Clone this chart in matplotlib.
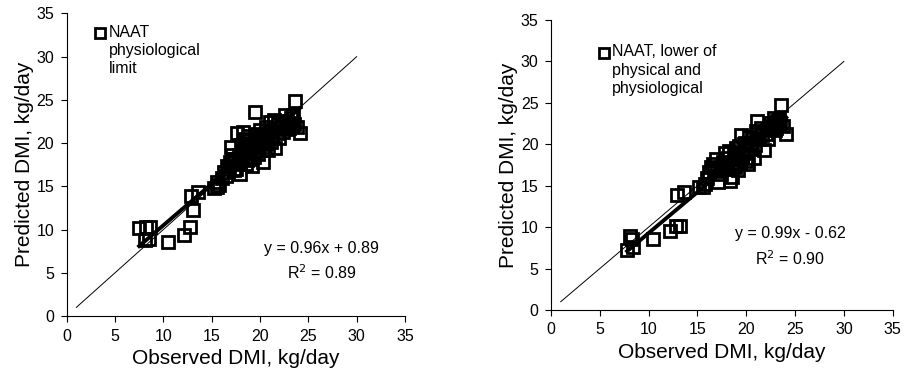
import numpy as np
import matplotlib
matplotlib.use('agg')
import matplotlib.pyplot as plt

plt.rcParams['font.family'] = ['Liberation Sans', 'DejaVu Sans']

# ---------------- data ----------------
obs_a = [7.5, 8.2, 8.6, 8.1, 8.5, 10.5, 12.1, 12.8, 13.1, 12.9, 13.6, 15.2, 15.6, 15.5, 15.8,
         16.3, 16.6, 16.9, 17.0, 17.2, 17.5, 17.9, 17.8, 18.0, 18.2, 18.4, 18.5, 18.6, 18.8,
         19.0, 19.2, 19.3, 19.5, 19.6, 19.8, 20.0, 20.1, 20.3, 20.4, 20.6, 20.8, 21.0, 21.2,
         21.4, 21.6, 21.8, 22.0, 22.2, 22.4, 22.6, 22.8, 23.0, 23.2, 23.4, 23.6, 23.5, 23.8,
         24.1, 17.3, 18.9, 19.9, 16.5, 17.6,
         16.8, 17.4, 17.7, 18.1, 18.3, 18.7, 19.1, 19.4, 19.7, 20.2, 20.5, 20.9, 21.1, 21.5,
         21.9, 22.3, 22.7, 23.1, 23.3, 16.1, 17.1, 18.6, 19.5, 20.7]
pred_a = [10.2, 10.3, 10.3, 8.8, 8.9, 8.6, 9.4, 10.3, 12.3, 13.9, 14.3, 14.8, 14.9, 15.5, 15.2,
          16.7, 17.4, 17.8, 19.5, 18.2, 17.0, 16.4, 18.6, 19.8, 21.3, 20.5, 19.0, 17.6, 20.8,
          18.2, 17.3, 19.5, 23.6, 20.4, 18.8, 21.5, 19.9, 17.8, 20.6, 21.9, 19.2, 22.4, 20.8,
          22.7, 19.4, 21.2, 20.6, 22.0, 21.3, 23.2, 22.4, 21.7, 22.9, 23.3, 24.9, 22.2, 21.9,
          21.2, 16.9, 19.3, 20.2, 16.2, 21.2,
          17.0, 18.0, 17.6, 18.8, 19.4, 18.0, 19.9, 18.4, 21.0, 20.8, 19.6, 21.4, 20.1, 21.8,
          22.2, 22.6, 21.6, 22.3, 22.0, 16.0, 18.6, 20.2, 19.0, 20.0]

obs_b = [7.8, 8.1, 8.3, 8.4, 10.5, 12.2, 12.8, 13.2, 12.9, 13.6, 15.2, 15.6, 15.8,
         16.2, 16.4, 16.6, 16.9, 17.1, 17.3, 17.5, 17.8, 18.0, 18.2, 18.3, 18.5, 18.6, 18.8,
         19.0, 19.2, 19.4, 19.5, 19.7, 19.9, 20.0, 20.2, 20.4, 20.6, 20.8, 21.0, 21.1, 21.3,
         21.5, 21.8, 22.0, 22.2, 22.4, 22.6, 22.8, 23.0, 23.2, 23.4, 23.6, 23.5, 23.8, 24.1,
         17.0, 18.9, 19.8,
         16.7, 17.4, 17.9, 18.1, 18.4, 18.7, 19.1, 19.3, 19.6, 20.1, 20.5, 20.9, 21.2, 21.6,
         22.1, 22.5, 22.9, 23.3, 16.0, 17.6, 18.9, 20.3]
pred_b = [7.2, 8.9, 8.6, 7.6, 8.6, 9.5, 10.1, 10.1, 13.9, 14.3, 14.8, 14.9, 15.2,
          16.6, 17.2, 17.6, 18.2, 15.5, 16.8, 17.4, 18.9, 17.0, 19.2, 15.6, 16.0, 17.6, 18.5,
          19.6, 16.9, 17.8, 21.1, 19.0, 20.2, 18.0, 17.6, 19.4, 20.8, 18.4, 21.6, 22.8, 20.6,
          22.0, 19.3, 21.2, 20.7, 22.6, 21.8, 23.2, 22.0, 22.8, 23.0, 24.8, 22.4, 22.2, 21.2,
          17.0, 18.8, 20.0,
          16.9, 16.4, 17.8, 18.4, 17.2, 19.0, 18.2, 19.8, 18.6, 19.3, 20.2, 19.9, 21.4, 21.1,
          21.9, 22.2, 21.7, 22.5, 15.9, 17.9, 17.3, 20.9]

fit_a = (0.96, 0.89)
fit_b = (0.99, -0.62)
eq_a = ['y = 0.96x + 0.89', 'R$^2$ = 0.89']
eq_b = ['y = 0.99x - 0.62', 'R$^2$ = 0.90']
leg_a = 'NAAT\nphysiological\nlimit'
leg_b = 'NAAT, lower of\nphysical and\nphysiological'
ticks = [0, 5, 10, 15, 20, 25, 30, 35]

W, H = 905, 381
fig = plt.figure(figsize=(W / 100, H / 100), dpi=100)

MS, MEW = 8.2, 2.0


def panel(rect, obs, pred, fit, eq, eq_xy, leg, leg_px):
    ax = fig.add_axes(rect)
    # 1:1 line
    ax.plot([1, 30], [1, 30], color='black', lw=0.7, zorder=2)
    ax.plot(obs, pred, 's', ms=MS, mfc='none', mec='black', mew=MEW, zorder=3)
    # trend line, over the markers
    xs = np.array([min(obs), max(obs)])
    ax.plot(xs, fit[0] * xs + fit[1], color='black', lw=2.8, zorder=4)
    ax.set_xlim(0, 35)
    ax.set_ylim(0, 35)
    ax.set_xticks(ticks)
    ax.set_yticks(ticks)
    for s in ['top', 'right']:
        ax.spines[s].set_visible(False)
    for s in ['left', 'bottom']:
        ax.spines[s].set_linewidth(0.8)
    ax.tick_params(direction='out', length=4, width=0.8, labelsize=11.5, pad=5)
    ax.set_xlabel('Observed DMI, kg/day', fontsize=15, labelpad=4)
    ax.set_ylabel('Predicted DMI, kg/day', fontsize=15, labelpad=2)
    ax.text(eq_xy[0], eq_xy[1], eq[0], ha='center', va='center', fontsize=11.5)
    ax.text(eq_xy[0], eq_xy[2], eq[1], ha='center', va='center', fontsize=11.5)
    # legend entry
    mx, my, tx = leg_px
    fig.lines.append(plt.Line2D([mx / W], [1 - my / H], marker='s', ms=7.2, mfc='white',
                                mec='black', mew=MEW, transform=fig.transFigure))
    fig.text(tx / W, 1 - (my - 8) / H, leg, ha='left', va='top', fontsize=11.5,
             linespacing=1.25)
    return ax


panel([0.0737, 0.1706, 0.3738, 0.794], obs_a, pred_a, fit_a, eq_a, (26.4, 7.85, 5.0),
      leg_a, (100, 33, 109))
panel([0.6088, 0.1864, 0.3776, 0.761], obs_b, pred_b, fit_b, eq_b, (24.5, 9.26, 6.24),
      leg_b, (604, 52.5, 612))

fig.savefig('out.png', dpi=100)
